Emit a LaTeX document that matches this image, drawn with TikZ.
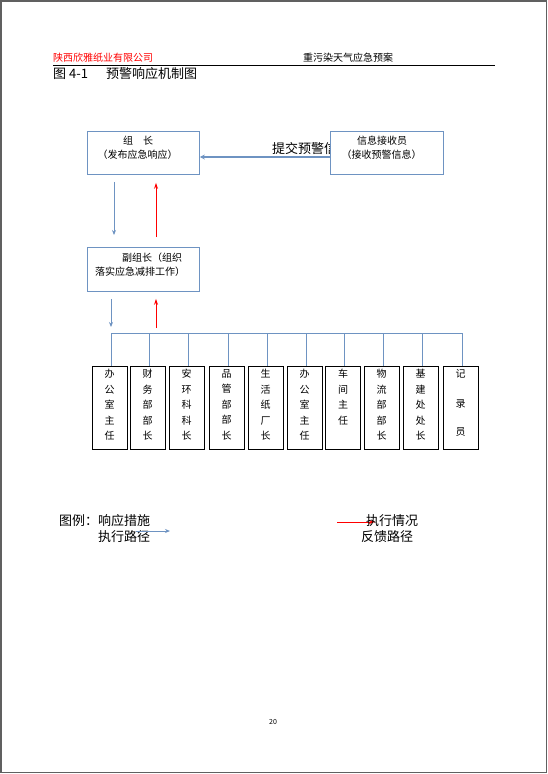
\documentclass[tikz,border=0pt]{standalone}
\usepackage{fontspec}
\setmainfont{Noto Sans CJK SC}
\usetikzlibrary{arrows.meta}
\definecolor{bgline}{HTML}{6E93C2}
\definecolor{pageframe}{HTML}{606060}
\begin{document}
\begin{tikzpicture}[x=1pt,y=-1pt,
  txt/.style={inner sep=0pt,font=\fontsize{10pt}{12pt}\selectfont},
  big/.style={inner sep=0pt,font=\fontsize{13pt}{15pt}\selectfont},
  bluebox/.style={draw=bgline,line width=0.8pt,fill=white,inner sep=0pt,anchor=north west},
  colbox/.style={draw=black,line width=0.8pt,inner sep=0pt,minimum width=35pt,minimum height=83pt,anchor=north},
  coltxt/.style={inner sep=0pt,anchor=north,align=center,font=\fontsize{10pt}{15.5pt}\selectfont},
  bluearr/.style={draw=bgline,line width=0.9pt,-{Stealth[length=5pt,width=4pt]}},
  redarr/.style={draw=red,line width=0.9pt,-{Stealth[length=6pt,width=4pt]}},
  busline/.style={draw=bgline,line width=0.9pt}
]
\useasboundingbox (0,0) rectangle (548,774);
% page frame
\draw[pageframe,line width=1.2pt] (1,1) rectangle (546.5,772.5);
% header
\node[txt,anchor=west,text=red] (hl) at (53,58) {陕西欣雅纸业有限公司};
\node[txt,anchor=west] (hr) at (303,58) {重污染天气应急预案};
\coordinate (hlineL) at (53,65);
\coordinate (hlineR) at (495,65);
\draw[black,line width=0.8pt] (hlineL) -- (hlineR);
\node[big,anchor=west] (title) at (53,74) {图 {\rmfamily 4-1}\hspace{18pt}预警响应机制图};

% label behind info box
\node[big,anchor=west] (tjlabel) at (272,149) {提交预警信};

% top boxes
\node[bluebox,minimum width=112pt,minimum height=43pt] (g1) at (87,131) {};
\node[txt] (g1a) at (138,141) {组\hspace{10pt}长};
\node[txt] (g1b) at (137.5,155) {（发布应急响应）};

\node[bluebox,minimum width=113pt,minimum height=43pt] (g3) at (330,131) {};
\node[txt] (g3a) at (382,141) {信息接收员};
\node[txt] (g3b) at (381.5,155) {（接收预警信息）};

\draw[draw=bgline,line width=1.6pt,-{Stealth[length=5pt,width=5pt]}] (g3.west |- 0,157) -- (g1.east |- 0,157);

% deputy box
\node[bluebox,minimum width=112pt,minimum height=44pt] (g2) at (87,247) {};
\node[txt,anchor=west] (g2a) at (122,258) {副组长（组织};
\node[txt,anchor=west] (g2b) at (95,272) {落实应急减排工作）};

\draw[bluearr] ([xshift=27pt,yshift=-7pt]g1.south west) -- ([xshift=27pt,yshift=12pt]g2.north west);
\draw[redarr] ([xshift=69pt,yshift=10pt]g2.north west) -- ([xshift=69pt,yshift=-8pt]g1.south west);

% bus
\coordinate (busL) at (111,333);
\coordinate (busR) at (462,333);
\draw[bluearr] ([xshift=24pt,yshift=-7pt]g2.south west) -- ([yshift=6pt]busL);
\draw[redarr] (156,328) -- ([xshift=69pt,yshift=-7pt]g2.south west);
\draw[busline] (busL) -- (busR);

% column boxes
\foreach \i/\x/\t in {1/109.5/办\\公\\室\\主\\任,
                      2/147.5/财\\务\\部\\部\\长,
                      3/186.5/安\\环\\科\\科\\长,
                      4/226.5/品\\管\\部\\部\\长,
                      5/265.5/生\\活\\纸\\厂\\长,
                      6/304.5/办\\公\\室\\主\\任,
                      7/343/车\\间\\主\\任,
                      8/381.5/物\\流\\部\\部\\长,
                      9/420.5/基\\建\\处\\处\\长,
                      10/460.5/记\\[14.5pt]录\\[12.5pt]员}{
  \node[colbox] (c\i) at (\x,366) {};
  \node[coltxt] (ct\i) at ([yshift=-3pt]c\i.north) {\t};
  \draw[busline] ([xshift=1.5pt]c\i.north) -- ([xshift=1.5pt]c\i.north |- busL);
}

% legend
\node[big,anchor=west] (lg1) at (59,521) {图例：响应措施};
\node[big,anchor=west] (lg2) at (98,537) {执行路径};
\coordinate (la1) at (136,531);
\coordinate (la2) at (170,531);
\draw[bluearr] (la1) -- (la2);
\coordinate (lb1) at (337,522);
\coordinate (lb2) at (375,522);
\draw[redarr] (lb1) -- (lb2);
\node[big,anchor=west] (lg3) at (366,521) {执行情况};
\node[big,anchor=west] (lg4) at (361,537) {反馈路径};

% page number
\node[inner sep=0pt,font=\fontsize{7pt}{8pt}\selectfont] (pn) at (273,722) {20};
\end{tikzpicture}
\end{document}
